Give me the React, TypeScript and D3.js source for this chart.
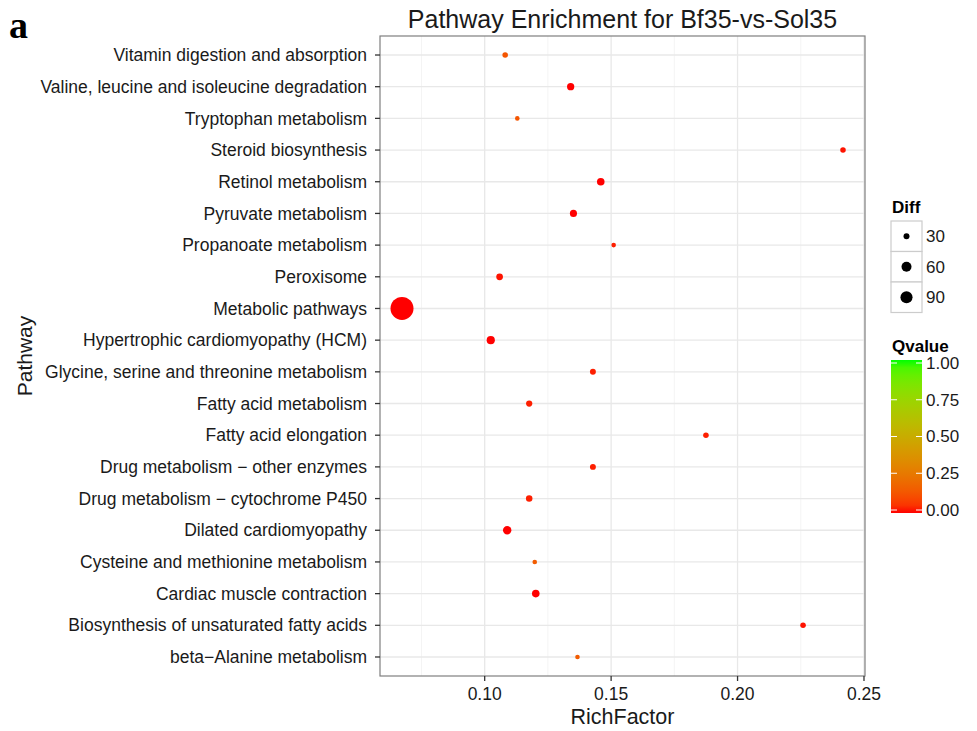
import React from "react";
import * as d3 from "d3";

const pathways = [
  "Vitamin digestion and absorption",
  "Valine, leucine and isoleucine degradation",
  "Tryptophan metabolism",
  "Steroid biosynthesis",
  "Retinol metabolism",
  "Pyruvate metabolism",
  "Propanoate metabolism",
  "Peroxisome",
  "Metabolic pathways",
  "Hypertrophic cardiomyopathy (HCM)",
  "Glycine, serine and threonine metabolism",
  "Fatty acid metabolism",
  "Fatty acid elongation",
  "Drug metabolism \u2212 other enzymes",
  "Drug metabolism \u2212 cytochrome P450",
  "Dilated cardiomyopathy",
  "Cysteine and methionine metabolism",
  "Cardiac muscle contraction",
  "Biosynthesis of unsaturated fatty acids",
  "beta\u2212Alanine metabolism",
];
const richFactor = [
  0.1081, 0.134, 0.1129, 0.2417, 0.1459, 0.1351, 0.151, 0.1059, 0.0673, 0.1024,
  0.1428, 0.1176, 0.1875, 0.1428, 0.1176, 0.1089, 0.1198, 0.1202, 0.2259, 0.1367,
];
const qvalue = [
  0.13, 0.0, 0.13, 0.01, 0.0, 0.0, 0.02, 0.01, 0.0, 0.0,
  0.02, 0.02, 0.02, 0.02, 0.02, 0.0, 0.15, 0.0, 0.01, 0.15,
];
const diff = [
  29, 36, 28, 29, 38, 35, 28, 33, 400, 42,
  30, 31, 29, 30, 32, 44, 28, 38, 29, 28,
];
const xTicks = [0.1, 0.15, 0.2, 0.25];
const xMinor = [0.075, 0.125, 0.175, 0.225];
const sizeBreaks = [30, 60, 90];
const qTicks = [0, 0.25, 0.5, 0.75, 1];

const W = 977;
const H = 731;
const left = 380;
const right = 865;
const top = 36;
const bottom = 676;
const font = "'Liberation Sans', Arial, Helvetica, sans-serif";

export default function App() {
  const x = d3.scaleLinear().domain([0.0586, 0.2504]).range([left, right]);
  const y = d3
    .scalePoint<string>()
    .domain(pathways)
    .range([top, bottom])
    .padding(0.6);
  const dmin = 28;
  const dmax = 400;
  const sizeUnit = d3.scaleLinear().domain([0, 1]).range([1.2, 6]);
  const r = (v: number) =>
    (sizeUnit(Math.sqrt(Math.max(0, (v - dmin) / (dmax - dmin)))) * 3.83) / 2;
  const color = d3
    .scaleLinear<string>()
    .domain([0, 1])
    .range(["#ff0000", "#00ff00"])
    .interpolate(d3.interpolateLab);

  // legend geometry
  const lgX = 891;
  const keyW = 31;
  const keyTop = 221;
  const keyH = 30.5;
  const barTop = 360;
  const barBottom = 513;
  const qY = d3.scaleLinear().domain([0, 1]).range([510, 363]);
  const stops = d3.range(0, 1.0001, 0.05);

  return (
    <svg
      width={W}
      height={H}
      style={{ position: "absolute", left: 0, top: 0, background: "#fff" }}
      fontFamily={font}
    >
      <defs>
        <linearGradient id="qgrad" x1="0" y1="1" x2="0" y2="0">
          {stops.map((s) => (
            <stop key={s} offset={s} stopColor={color(s)} />
          ))}
        </linearGradient>
      </defs>
      <rect x={0} y={0} width={W} height={H} fill="#fff" />
      <text
        x={9}
        y={38}
        fontFamily="'Liberation Serif', 'Times New Roman', serif"
        fontWeight="bold"
        fontSize={38}
        fill="#000"
      >
        a
      </text>
      <text
        x={(left + right) / 2}
        y={28}
        textAnchor="middle"
        fontSize={25}
        fill="#1a1a1a"
      >
        Pathway Enrichment for Bf35-vs-Sol35
      </text>

      {/* panel */}
      <rect x={left} y={top} width={right - left} height={bottom - top} fill="#fff" />
      {xMinor.map((t) => (
        <line key={"m" + t} x1={x(t)} x2={x(t)} y1={top} y2={bottom} stroke="#f4f4f4" strokeWidth={1} />
      ))}
      {xTicks.map((t) => (
        <line key={"g" + t} x1={x(t)} x2={x(t)} y1={top} y2={bottom} stroke="#e8e8e8" strokeWidth={1.3} />
      ))}
      {pathways.map((p) => (
        <line key={"h" + p} x1={left} x2={right} y1={y(p)} y2={y(p)} stroke="#e8e8e8" strokeWidth={1.3} />
      ))}
      {pathways.map((p, i) => (
        <circle
          key={"c" + p}
          cx={x(richFactor[i])}
          cy={y(p)}
          r={r(diff[i])}
          fill={color(qvalue[i])}
        />
      ))}
      <rect
        x={left}
        y={top}
        width={right - left}
        height={bottom - top}
        fill="none"
        stroke="#7f7f7f"
        strokeWidth={1.2}
      />

      {/* y axis */}
      {pathways.map((p) => (
        <g key={"yl" + p}>
          <line x1={left - 5} x2={left} y1={y(p)} y2={y(p)} stroke="#333" strokeWidth={1.3} />
          <text x={left - 13} y={y(p)} dy="0.35em" textAnchor="end" fontSize={17.5} fill="#1a1a1a">
            {p}
          </text>
        </g>
      ))}
      {/* x axis */}
      {xTicks.map((t) => (
        <g key={"xl" + t}>
          <line x1={x(t)} x2={x(t)} y1={bottom} y2={bottom + 5} stroke="#333" strokeWidth={1.3} />
          <text x={x(t)} y={bottom + 24} textAnchor="middle" fontSize={17.5} fill="#1a1a1a">
            {d3.format(".2f")(t)}
          </text>
        </g>
      ))}
      <text x={(left + right) / 2} y={724} textAnchor="middle" fontSize={21.5} fill="#1a1a1a">
        RichFactor
      </text>
      <text
        transform={`translate(32, ${(top + bottom) / 2}) rotate(-90)`}
        textAnchor="middle"
        fontSize={21}
        fill="#1a1a1a"
      >
        Pathway
      </text>

      {/* size legend */}
      <text x={lgX + 1} y={213} fontSize={17} fontWeight="bold" fill="#000">
        Diff
      </text>
      {sizeBreaks.map((b, i) => (
        <g key={"sb" + b}>
          <rect
            x={lgX}
            y={keyTop + i * keyH}
            width={keyW}
            height={keyH}
            fill="#fff"
            stroke="#cccccc"
            strokeWidth={1.2}
          />
          <circle cx={lgX + keyW / 2} cy={keyTop + i * keyH + keyH / 2} r={r(b)} fill="#000" />
          <text x={lgX + keyW + 4} y={keyTop + i * keyH + keyH / 2} dy="0.35em" fontSize={17} fill="#1a1a1a">
            {b}
          </text>
        </g>
      ))}

      {/* colour legend */}
      <text x={lgX + 1} y={352} fontSize={17} fontWeight="bold" fill="#000">
        Qvalue
      </text>
      <rect x={lgX} y={barTop} width={keyW} height={barBottom - barTop} fill="url(#qgrad)" />
      {qTicks.map((t) => (
        <g key={"qt" + t}>
          <line x1={lgX} x2={lgX + 6} y1={qY(t)} y2={qY(t)} stroke="#fff" strokeWidth={1} />
          <line x1={lgX + keyW - 6} x2={lgX + keyW} y1={qY(t)} y2={qY(t)} stroke="#fff" strokeWidth={1} />
          <text x={lgX + keyW + 4} y={qY(t)} dy="0.35em" fontSize={17} fill="#1a1a1a">
            {d3.format(".2f")(t)}
          </text>
        </g>
      ))}
    </svg>
  );
}
